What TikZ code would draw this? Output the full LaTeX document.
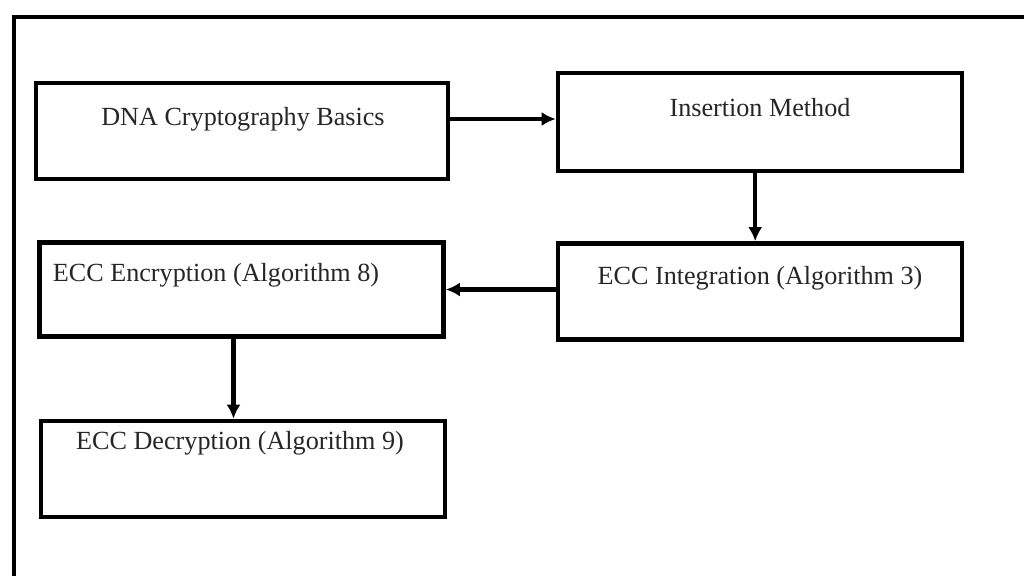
\documentclass[tikz,border=0pt]{standalone}
\usepackage{fontspec}
\setmainfont{Liberation Serif}
\usetikzlibrary{arrows.meta}
\begin{document}
\begin{tikzpicture}[x=0.025cm, y=-0.025cm,
    box/.style={draw, line width=3.2pt, minimum width=10.1cm, minimum height=2.4cm, inner sep=0pt},
    lbl/.style={font=\fontsize{18.6}{22}\selectfont, text=black!85, inner sep=0pt},
    arrow/.style={line width=3pt, -{Latex[length=10pt, width=10pt]}}]
    \useasboundingbox (0,0) rectangle (1024,575);
    \clip (0,0) rectangle (1024,575);

    % Frame
    \draw[line width=3.2pt] (14,17) rectangle (1040,600);

    % Boxes
    \node[box, minimum width=10.3cm] (dna) at (242,131) {};
    \node[box, minimum height=2.45cm] (ins) at (760,122) {};
    \node[box] (integ) at (760,291.5) {};
    \node[box, minimum height=2.35cm] (enc) at (241.5,289.5) {};
    \node[box] (dec) at (243,469) {};

    % Labels
    \node[lbl] (dnalbl) at (243,119) {DNA Cryptography Basics};
    \node[lbl] (inslbl) at (760,108) {Insertion Method};
    \node[lbl] (integlbl) at (760,278) {ECC Integration (Algorithm 3)};
    \node[lbl] (enclbl) at (216,275) {ECC Encryption (Algorithm 8)};
    \node[lbl] (declbl) at (240,443) {ECC Decryption (Algorithm 9)};

    % Arrows
    \draw[arrow] (dna.east |- dnalbl) -- (ins.west |- dnalbl);
    \draw[arrow] ([xshift=-0.12cm]ins.south) -- ([xshift=-0.12cm]integ.north);
    \draw[arrow] (integ.west |- enc.east) -- (enc.east);
    \draw[arrow] ([xshift=-0.2cm]enc.south) -- ([xshift=-0.2cm]enc.south |- dec.north);
\end{tikzpicture}
\end{document}
